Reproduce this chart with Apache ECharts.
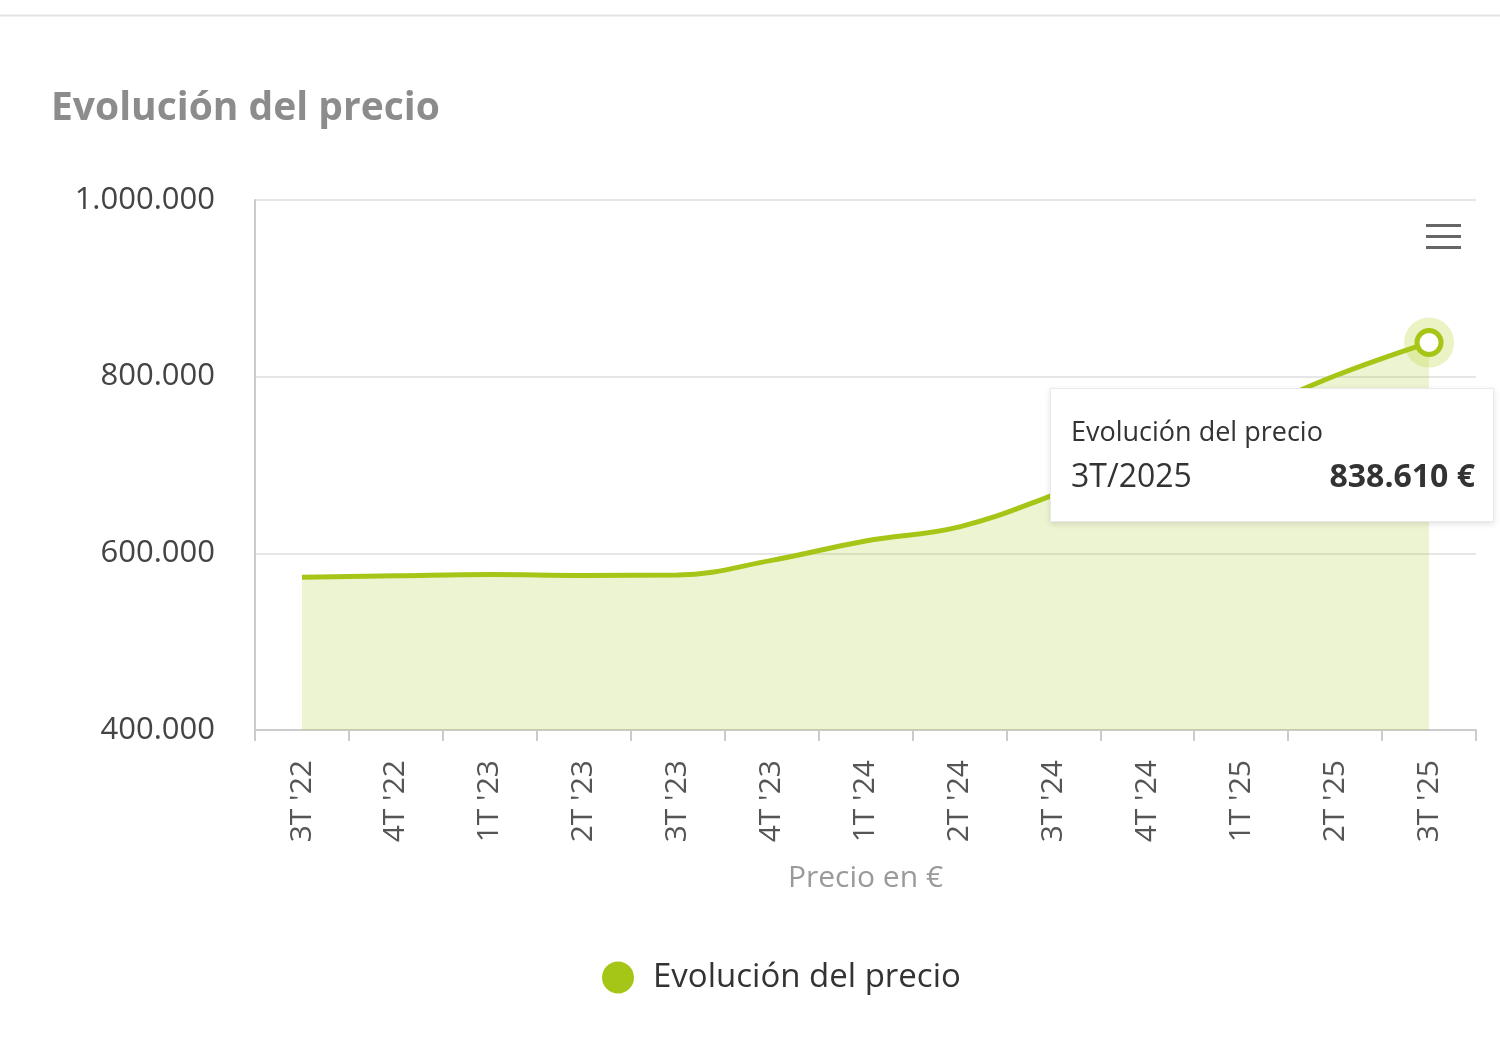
<!DOCTYPE html>
<html>
<head>
<meta charset="utf-8">
<script src="https://cdn.jsdelivr.net/npm/echarts@6/dist/echarts.min.js"></script>
<style>
  html, body { margin: 0; padding: 0; background: #fff; }
  #chart { width: 1500px; height: 1045px; }
</style>
</head>
<body>
<div id="chart"></div>
<script>
  // trimestres y precio medio (€)
  const quarters = ["3T '22", "4T '22", "1T '23", "2T '23", "3T '23", "4T '23", "1T '24", "2T '24", "3T '24", "4T '24", "1T '25", "2T '25", "3T '25"];
  const tooltipLabels = ['3T/2022', '4T/2022', '1T/2023', '2T/2023', '3T/2023', '4T/2023', '1T/2024', '2T/2024', '3T/2024', '4T/2024', '1T/2025', '2T/2025', '3T/2025'];
  const prices = [573000, 574500, 576000, 575000, 575500, 592000, 614000, 630000, 666000, 708000, 755000, 801000, 838610];
  const yTicks = [400000, 600000, 800000, 1000000];

  const green = '#a6c617';
  const lastIdx = prices.length - 1;
  const fmt = v => String(Math.round(v)).replace(/\B(?=(\d{3})+(?!\d))/g, '.');

  const myChart = echarts.init(document.getElementById('chart'));

  const option = {
    animation: false,
    textStyle: { fontFamily: 'Open Sans' },
    title: {
      text: 'Evolución del precio',
      left: 46,
      top: 84,
      textStyle: { fontSize: 39, fontWeight: 'bold', color: '#8c8c8c', fontFamily: 'Open Sans' }
    },
    graphic: [
      { type: 'line', shape: { x1: 0, y1: 15.5, x2: 1500, y2: 15.5 }, style: { stroke: '#e3e3e3', lineWidth: 2 } },
      { type: 'rect', shape: { x: 1426, y: 224, width: 35, height: 3 }, style: { fill: '#666' } },
      { type: 'rect', shape: { x: 1426, y: 235, width: 35, height: 3 }, style: { fill: '#666' } },
      { type: 'rect', shape: { x: 1426, y: 246, width: 35, height: 3 }, style: { fill: '#666' } }
    ],
    grid: { left: 255, right: 24, top: 200, bottom: 315 },
    legend: {
      bottom: 46,
      left: 597,
      icon: 'circle',
      itemWidth: 32,
      itemHeight: 32,
      itemGap: 10,
      data: ['Evolución del precio'],
      textStyle: { fontSize: 33, color: '#333', padding: [0, 0, 0, 14] }
    },
    tooltip: {
      trigger: 'item',
      alwaysShowContent: true,
      transitionDuration: 0,
      position: [1050, 388],
      backgroundColor: '#fff',
      borderColor: '#eaeaea',
      borderWidth: 1,
      padding: [22, 18, 22, 20],
      extraCssText: 'box-shadow: 0 2px 6px rgba(0,0,0,0.12); border-radius: 0;',
      formatter: p => {
        if (p.seriesIndex !== 0) return '';
        return '<div style="font-family:Open Sans;color:#333;">' +
          '<div style="font-size:27px;line-height:40px;">Evolución del precio</div>' +
          '<div style="font-size:32px;line-height:48px;display:flex;justify-content:space-between;width:404px;">' +
          '<span>' + tooltipLabels[p.dataIndex] + '</span>' +
          '<b style="font-weight:bold;">' + fmt(p.value) + ' €</b></div></div>';
      }
    },
    xAxis: {
      type: 'category',
      data: quarters,
      boundaryGap: true,
      name: 'Precio en €',
      nameLocation: 'middle',
      nameGap: 133,
      nameTextStyle: { fontSize: 30, color: '#9a9a9a' },
      axisLine: { lineStyle: { color: '#cccccc', width: 2 } },
      axisTick: { show: true, length: 11, lineStyle: { color: '#cccccc', width: 2 } },
      axisLabel: { rotate: 90, margin: 30, fontSize: 30, color: '#555' }
    },
    yAxis: {
      type: 'value',
      min: yTicks[0],
      max: yTicks[yTicks.length - 1],
      interval: yTicks[1] - yTicks[0],
      axisLine: { show: true, lineStyle: { color: '#cccccc', width: 2 } },
      axisTick: { show: false },
      axisLabel: { margin: 40, fontSize: 31, color: '#444', formatter: v => fmt(v) },
      splitLine: { lineStyle: { color: '#e6e6e6', width: 2 } }
    },
    series: [
      {
        name: 'Evolución del precio',
        type: 'line',
        smooth: 0.4,
        data: prices.map((v, i) => i === lastIdx ? {
          value: v,
          symbol: 'circle',
          symbolSize: 24,
          itemStyle: { color: '#fff', borderColor: green, borderWidth: 5 }
        } : { value: v, symbolSize: 0 }),
        showSymbol: true,
        color: green,
        lineStyle: { color: green, width: 5 },
        areaStyle: { color: green, opacity: 0.2 },
        emphasis: { disabled: true },
        z: 3
      },
      {
        name: 'halo',
        type: 'scatter',
        data: prices.map((v, i) => i === lastIdx ? v : null),
        symbolSize: 50,
        itemStyle: { color: 'rgba(176, 208, 30, 0.32)' },
        emphasis: { disabled: true },
        tooltip: { show: false },
        silent: true,
        z: 2
      }
    ]
  };

  myChart.setOption(option);
  myChart.dispatchAction({ type: 'showTip', seriesIndex: 0, dataIndex: lastIdx });

  window.addEventListener('resize', () => myChart.resize());
</script>
</body>
</html>
